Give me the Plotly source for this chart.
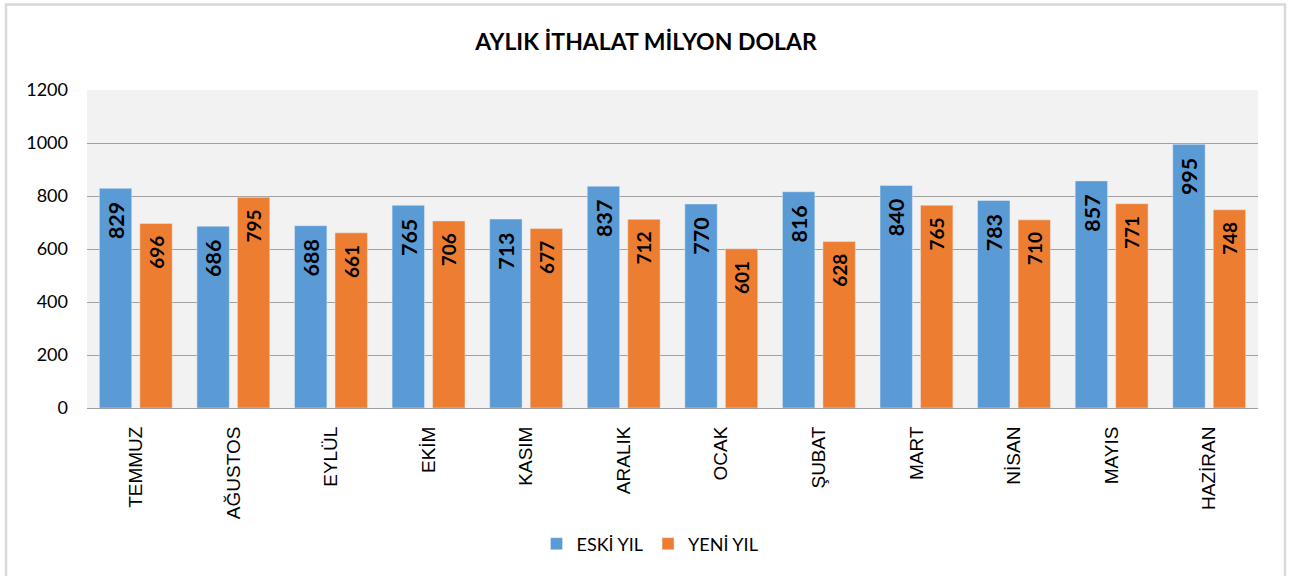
import plotly.graph_objects as go

months = ["TEMMUZ", "AĞUSTOS", "EYLÜL", "EKİM", "KASIM", "ARALIK",
          "OCAK", "ŞUBAT", "MART", "NİSAN", "MAYIS", "HAZİRAN"]
eski_yil = [829, 686, 688, 765, 713, 837, 770, 816, 840, 783, 857, 995]
yeni_yil = [696, 795, 661, 706, 677, 712, 601, 628, 765, 710, 771, 748]
y_ticks = [0, 200, 400, 600, 800, 1000, 1200]

PAD = "\u00a0\u00a0"

fig = go.Figure()
fig.add_trace(go.Bar(
    name="ESKİ YIL", x=months, y=eski_yil,
    marker=dict(color="#5b9bd5"),
    text=[f"{v}{PAD}" for v in eski_yil],
    textposition="inside", insidetextanchor="end", textangle=-90,
    textfont=dict(family="Lato", size=26, color="#000000", weight="bold"),
    hoverinfo="x+y",
))
fig.add_trace(go.Bar(
    name="YENİ YIL", x=months, y=yeni_yil,
    marker=dict(color="#ed7d31"),
    text=[f"{v}{PAD}" for v in yeni_yil],
    textposition="inside", insidetextanchor="end", textangle=-90,
    textfont=dict(family="Lato", size=19, color="#000000", weight="bold"),
    hoverinfo="x+y",
))

fig.update_layout(
    width=1292, height=576,
    margin=dict(l=87, r=34, t=90, b=168),
    paper_bgcolor="#ffffff",
    plot_bgcolor="#f2f2f2",
    barmode="group", bargap=0.17, bargroupgap=0.2,
    title=dict(text="<b>AYLIK İTHALAT MİLYON DOLAR</b>", x=0.5, xanchor="center",
               y=1 - 42 / 576, yanchor="middle",
               font=dict(family="Lato", size=23, color="#000000")),
    font=dict(family="Lato", color="#000000"),
    legend=dict(orientation="h", x=(650 - 87) / 1171, xanchor="center",
                y=(408 - 544) / 318, yanchor="middle",
                font=dict(family="Lato", size=18, color="#000000"),
                bgcolor="rgba(0,0,0,0)"),
    showlegend=True,
    xaxis=dict(
        tickangle=-90, showgrid=False, showline=True, linecolor="#a0a0a0", linewidth=1,
        tickfont=dict(family="Liberation Sans", size=19, color="#000000"),
        ticklabelstandoff=10, ticks="",
    ),
    yaxis=dict(
        range=[0, 1200], tickvals=y_ticks, showgrid=True, gridcolor="#a0a0a0", gridwidth=1,
        zeroline=False, showline=False, ticks="",
        tickfont=dict(family="Lato", size=18, color="#000000"),
        ticklabelstandoff=18,
    ),
    shapes=[dict(
        type="rect", xref="paper", yref="paper",
        x0=(6 - 87) / 1171, x1=(1285 - 87) / 1171,
        y0=(408 - 585) / 318, y1=(408 - 4.5) / 318,
        line=dict(color="#d9d9d9", width=2.5), fillcolor="rgba(0,0,0,0)", layer="above",
    )],
)

fig.write_html("out.html", config={"displayModeBar": False},
               post_script="document.body.style.margin='0';")
